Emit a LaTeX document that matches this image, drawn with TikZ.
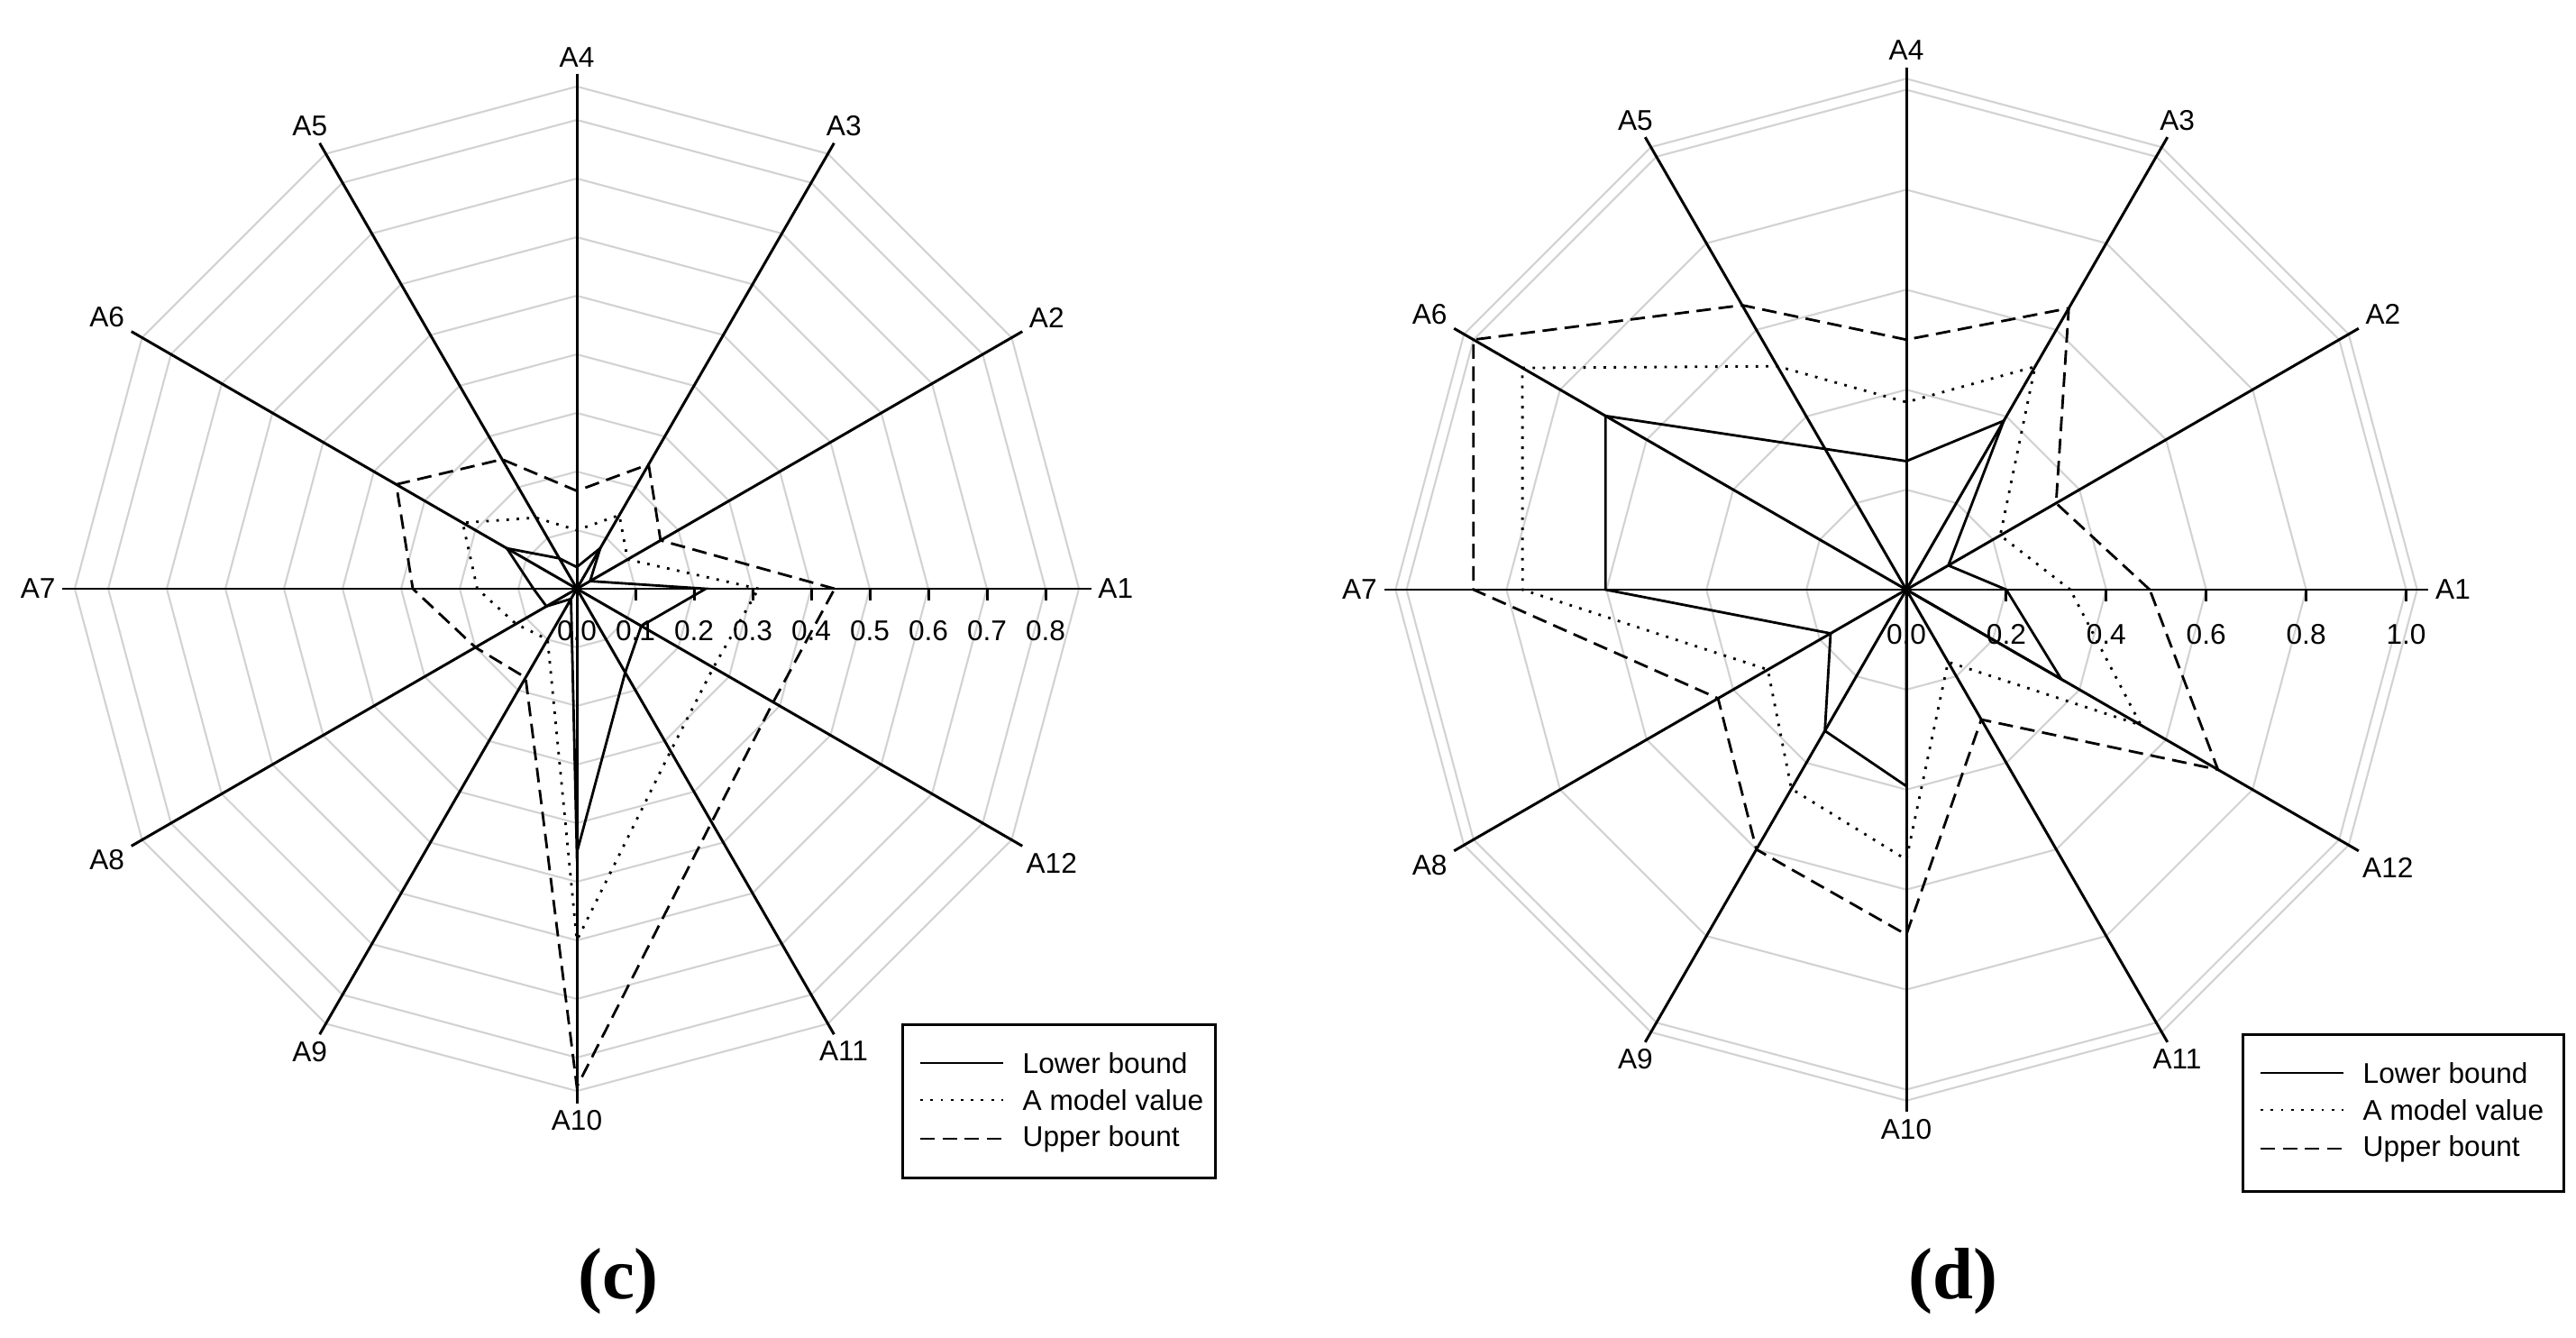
\documentclass[tikz,border=0pt]{standalone}
\usepackage{fontspec}
\setmainfont{Liberation Sans}
\newfontfamily\capfont{Liberation Serif}
\begin{document}
\begin{tikzpicture}[
  ring/.style={draw={rgb,255:red,210;green,210;blue,210}, line width=0.6pt},
  axis/.style={black, line width=0.85pt},
  lower/.style={black, line width=0.8pt, line join=miter},
  model/.style={black, line width=0.8pt, dash pattern=on 0.8pt off 2.4pt},
  upper/.style={black, line width=0.8pt, dash pattern=on 4.6pt off 2.4pt},
  lab/.style={font=\fontsize{9}{10}\selectfont, inner sep=2pt},
  tlab/.style={font=\fontsize{9}{10}\selectfont, inner sep=0pt},
  legbox/.style={draw=black, line width=0.8pt},
  figcap/.style={font=\capfont\bfseries\fontsize{23}{26}\selectfont}
]
\useasboundingbox (0,0) rectangle (28.58,14.83);
\newcommand\mypoly[4]{\draw[#1] (0:{#2*#3}) \foreach[count=\i] \v in {#4} { -- ({\i*30}:{#2*\v}) } -- cycle;}
\newcommand\myring[1]{\draw[ring] (0:#1) \foreach \a in {30,60,...,330} { -- (\a:#1) } -- cycle;}

% ---------------- chart (c) ----------------
\begin{scope}[shift={(6.40,8.30)}]
  \def\s{6.5}
  \foreach \r in {0.1,0.2,...,0.8} {\myring{\r*\s}}
  \myring{0.857*\s}
  \coordinate (c0) at (0,0);
  \foreach \k in {1,...,12} {
    \coordinate (c\k) at ({(\k-1)*30}:{0.878*\s});
    \draw[axis] (c0) -- (c\k);
    \node[lab, anchor={(\k-1)*30+180}] (cl\k) at (c\k) {A\k};
  }
  \foreach \t in {1,...,8} {
    \draw[axis] ({\t*0.1*\s},0) -- ({\t*0.1*\s},-0.13);
  }
  \foreach \t/\tx in {0/0.0,1/0.1,2/0.2,3/0.3,4/0.4,5/0.5,6/0.6,7/0.7,8/0.8} {
    \node[tlab] (ct\t) at ({\t*0.1*\s},-0.47) {\tx};
  }
  \mypoly{lower}{\s}{0.22}{0.026,0.08,0.037,0.06,0.138,0.074,0.06,0.02,0.45,0.165,0.127}
  \mypoly{model}{\s}{0.31}{0.10,0.145,0.10,0.14,0.225,0.17,0.12,0.10,0.60,0.32,0.269}
  \mypoly{upper}{\s}{0.44}{0.165,0.245,0.167,0.255,0.356,0.28,0.20,0.175,0.85,0.46,0.387}
\end{scope}
% legend (c)
\node[legbox, minimum width=3.47cm, minimum height=1.70cm, anchor=north west] (legc) at (10.00,3.48) {};
\coordinate (lc1a) at (10.21,3.04); \coordinate (lc1b) at (11.13,3.04);
\coordinate (lc2a) at (10.21,2.63); \coordinate (lc2b) at (11.13,2.63);
\coordinate (lc3a) at (10.21,2.20); \coordinate (lc3b) at (11.13,2.20);
\draw[lower] (lc1a) -- (lc1b); \draw[model] (lc2a) -- (lc2b); \draw[upper] (lc3a) -- (lc3b);
\node[lab, anchor=west, inner sep=0pt] (lct1) at (11.34,3.04) {Lower bound};
\node[lab, anchor=west, inner sep=0pt] (lct2) at (11.34,2.63) {A model value};
\node[lab, anchor=west, inner sep=0pt] (lct3) at (11.34,2.20) {Upper bount};
\node[figcap] (capc) at (6.86,0.62) {(c)};

% ---------------- chart (d) ----------------
\begin{scope}[shift={(21.15,8.29)}]
  \def\s{5.545}
  \foreach \r in {0.2,0.4,0.6,0.8,1.0} {\myring{\r*\s}}
  \myring{1.022*\s}
  \coordinate (d0) at (0,0);
  \foreach \k in {1,...,12} {
    \coordinate (d\k) at ({(\k-1)*30}:{1.045*\s});
    \draw[axis] (d0) -- (d\k);
    \node[lab, anchor={(\k-1)*30+180}] (dl\k) at (d\k) {A\k};
  }
  \foreach \t in {1,...,5} {
    \draw[axis] ({\t*0.2*\s},0) -- ({\t*0.2*\s},-0.13);
  }
  \foreach \t/\tx in {0/0.0,1/0.2,2/0.4,3/0.6,4/0.8,5/1.0} {
    \node[tlab] (dt\t) at ({\t*0.2*\s},-0.5) {\tx};
  }
  \mypoly{lower}{\s}{0.20}{0.097,0.39,0.257,0.325,0.695,0.602,0.175,0.326,0.393,0.0,0.358}
  \mypoly{model}{\s}{0.328}{0.217,0.515,0.375,0.516,0.887,0.768,0.32,0.46,0.54,0.167,0.542}
  \mypoly{upper}{\s}{0.487}{0.346,0.65,0.50,0.657,1.0,0.866,0.435,0.60,0.69,0.30,0.72}
\end{scope}
% legend (d)
\node[legbox, minimum width=3.56cm, minimum height=1.74cm, anchor=north west] (legd) at (24.87,3.37) {};
\coordinate (ld1a) at (25.08,2.93); \coordinate (ld1b) at (26.00,2.93);
\coordinate (ld2a) at (25.08,2.52); \coordinate (ld2b) at (26.00,2.52);
\coordinate (ld3a) at (25.08,2.09); \coordinate (ld3b) at (26.00,2.09);
\draw[lower] (ld1a) -- (ld1b); \draw[model] (ld2a) -- (ld2b); \draw[upper] (ld3a) -- (ld3b);
\node[lab, anchor=west, inner sep=0pt] (ldt1) at (26.21,2.93) {Lower bound};
\node[lab, anchor=west, inner sep=0pt] (ldt2) at (26.21,2.52) {A model value};
\node[lab, anchor=west, inner sep=0pt] (ldt3) at (26.21,2.09) {Upper bount};
\node[figcap] (capd) at (21.67,0.62) {(d)};
\end{tikzpicture}
\end{document}
